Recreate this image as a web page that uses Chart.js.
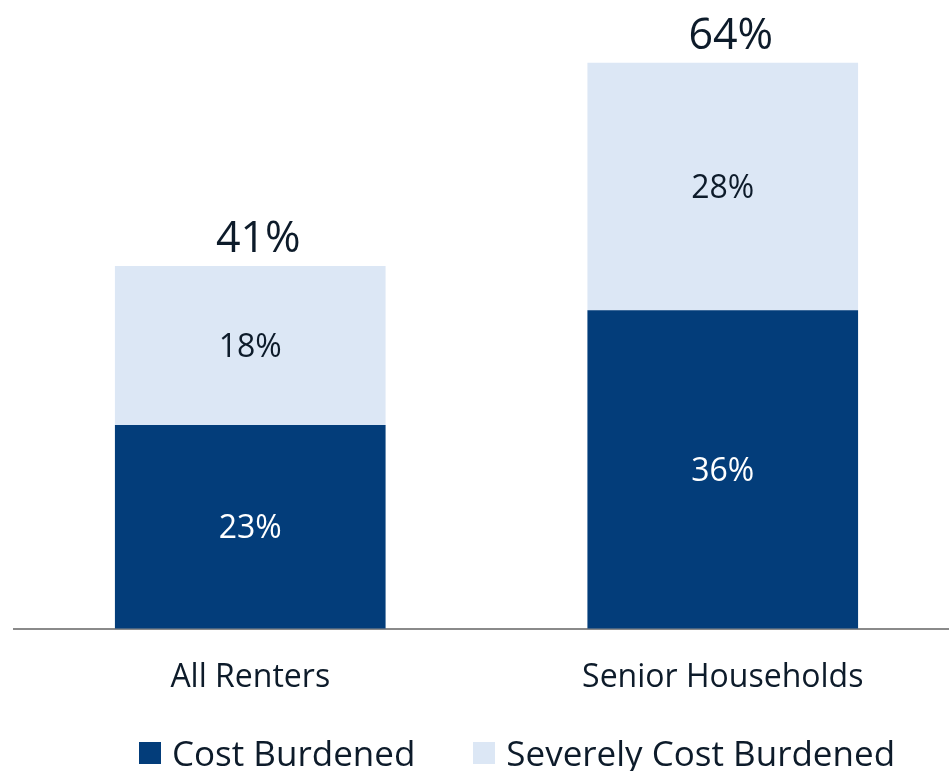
<!DOCTYPE html>
<html>
<head>
<meta charset="utf-8">
<script src="https://cdn.jsdelivr.net/npm/chart.js@4/dist/chart.umd.min.js"></script>
<style>
  html, body { margin: 0; padding: 0; background: #fff; overflow: hidden; }
  #wrap { position: relative; width: 959px; height: 771px; }
  #legend { position: absolute; left: 139px; top: 729px; font-family: "Open Sans", sans-serif;
            font-size: 35px; color: #0d1b2a; display: flex; white-space: nowrap; }
  .item { display: flex; align-items: center; margin-right: 58px; }
  .box { width: 22px; height: 22px; margin-right: 11px; }
</style>
</head>
<body>
<div id="wrap">
  <canvas id="burden" width="959" height="771"></canvas>
  <div id="legend"></div>
</div>
<script>
var categories = ['All Renters', 'Senior Households'];
var costBurdened = [23, 36];
var severelyBurdened = [18, 28];
var totals = [41, 64];

var textColor = '#0d1b2a';

var barLabels = {
  id: 'barLabels',
  afterDatasetsDraw: function (chart) {
    var ctx = chart.ctx;
    ctx.save();
    ctx.textAlign = 'center';
    ctx.font = '32px "Open Sans"';
    ctx.textBaseline = 'middle';
    chart.data.datasets.forEach(function (ds, i) {
      chart.getDatasetMeta(i).data.forEach(function (bar, j) {
        ctx.fillStyle = i == 0 ? '#ffffff' : textColor;
        ctx.fillText(ds.data[j] + '%', bar.x, (bar.y + bar.base) / 2 + 2);
      });
    });
    // totals on top of the stack
    var top = chart.getDatasetMeta(1).data;
    ctx.font = '43px "Open Sans"';
    ctx.textBaseline = 'alphabetic';
    ctx.fillStyle = textColor;
    top.forEach(function (bar, j) {
      ctx.fillText(totals[j] + '%', bar.x + 8, bar.y - 14);
    });
    ctx.restore();
  }
};

var chart = new Chart(document.getElementById('burden'), {
  type: 'bar',
  data: {
    labels: categories,
    datasets: [
      { label: 'Cost Burdened', data: costBurdened, backgroundColor: '#033d7a', barThickness: 270 },
      { label: 'Severely Cost Burdened', data: severelyBurdened, backgroundColor: '#dce7f5', barThickness: 270 }
    ]
  },
  options: {
    responsive: false,
    animation: false,
    layout: { padding: { left: 14, right: 0, top: 10, bottom: 52 } },
    plugins: {
      legend: { display: false },
      tooltip: { enabled: false }
    },
    scales: {
      x: {
        stacked: true,
        grid: { display: false },
        border: { display: true, color: '#8a8a8a', width: 2 },
        ticks: { color: textColor, padding: 22, font: { family: 'Open Sans', size: 32 } }
      },
      y: {
        stacked: true,
        display: false,
        min: 0,
        max: 70
      }
    }
  },
  plugins: [barLabels]
});

var legendDiv = document.getElementById('legend');
chart.data.datasets.forEach(function (ds) {
  var item = document.createElement('div');
  item.className = 'item';
  var box = document.createElement('span');
  box.className = 'box';
  box.style.background = ds.backgroundColor;
  item.appendChild(box);
  item.appendChild(document.createTextNode(ds.label));
  legendDiv.appendChild(item);
});
</script>
</body>
</html>
